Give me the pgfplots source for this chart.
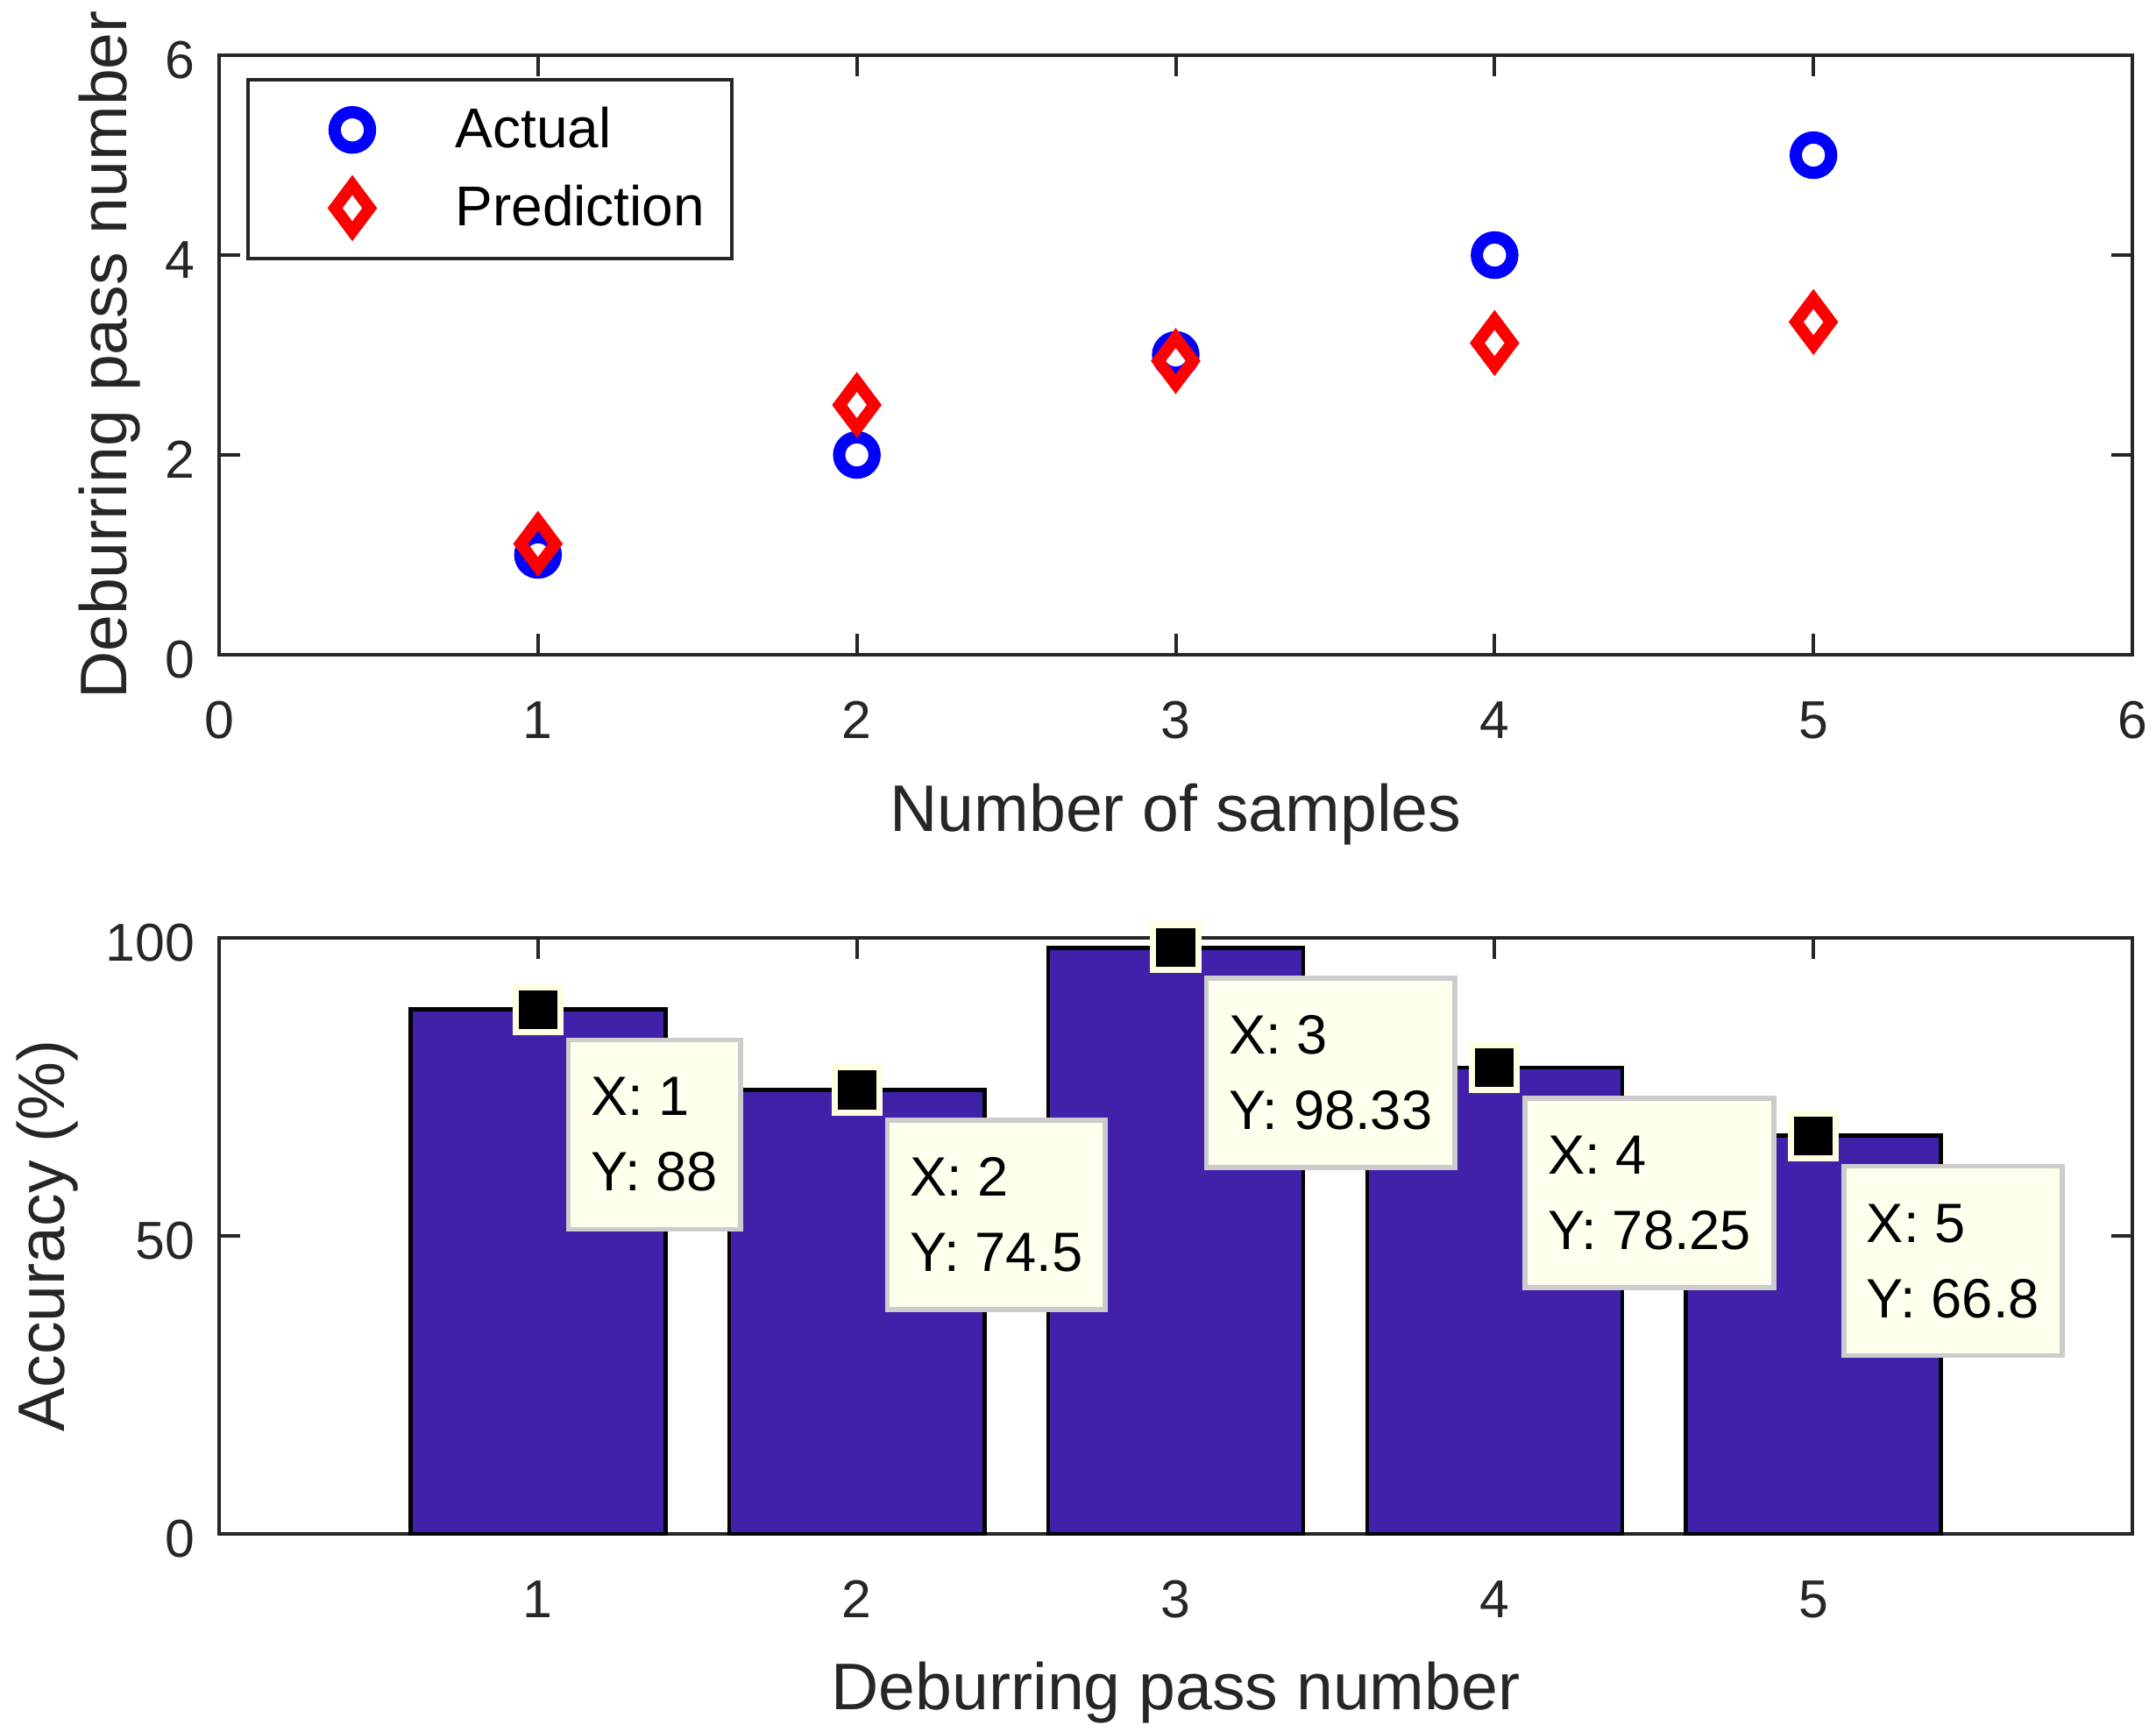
\documentclass[border=0pt]{standalone}
\usepackage{fontspec}
\setmainfont{Liberation Sans}
\usepackage{pgfplots}
\pgfplotsset{compat=1.18}
\definecolor{axgray}{RGB}{38,38,38}
\definecolor{barblue}{RGB}{66,33,170}
\definecolor{tipbg}{RGB}{255,255,238}
\definecolor{tipedge}{RGB}{204,204,204}
\definecolor{tipmark}{RGB}{255,255,225}
\pgfplotsset{
  mystyle/.style={
    scale only axis, width=545.75pt, clip=false,
    axis line style={axgray, line width=1pt},
    tick style={axgray, line width=1pt},
    tick align=inside, major tick length=6pt,
    xticklabel pos=left, yticklabel pos=left,
    xtick pos=both, ytick pos=both,
    /pgf/number format/assume math mode=true,
    ticklabel style={font=\fontsize{15.2}{18}\selectfont, text=axgray},
    xticklabel style={yshift=-9.8pt},
    yticklabel style={xshift=-3.5pt, yshift=-1.3pt},
    label style={font=\fontsize{18.8}{22}\selectfont, text=axgray},
  }
}
\begin{document}
\begin{tikzpicture}
\useasboundingbox (0,0) rectangle (615pt,493.75pt);
\begin{axis}[mystyle,
  at={(62.5pt,307pt)}, anchor=south west, height=171pt,
  xmin=0, xmax=6, ymin=0, ymax=6,
  xtick={0,1,2,3,4,5,6}, ytick={0,2,4,6},
  xlabel={Number of samples},
  ylabel={Deburring pass number},
  xlabel style={at={(axis description cs:0.5,0)}, anchor=center, yshift=-45.5pt},
  ylabel style={at={(axis description cs:-0.0573,0.5)}, anchor=center},
  legend style={at={(axis description cs:0.0142,0.962)}, anchor=north west,
    draw=axgray, line width=1pt, fill=white, inner xsep=7.75pt, inner ysep=7.3pt,
    font=\fontsize{16}{19}\selectfont, text=black, row sep=8.3pt, column sep=7.4pt,
    cells={anchor=west}, nodes={inner sep=0pt}},
  legend image code/.code={\path[draw=none,fill=none] (0pt,-7pt) rectangle (44pt,7pt); \draw[#1] plot coordinates {(22pt,0pt)};},
]
\addplot[only marks, mark=o, color=blue, line width=3.5pt, mark size=5.05pt]
  coordinates {(1,1) (2,2) (3,3) (4,4) (5,5)};
\addlegendentry{Actual}
\addplot[only marks, mark=diamond, color=red, line width=3.4pt, mark size=6.6pt]
  coordinates {(1,1.11) (2,2.5) (3,2.94) (4,3.12) (5,3.33)};
\addlegendentry{Prediction}
\end{axis}

\begin{axis}[mystyle,
  at={(62.5pt,56.25pt)}, anchor=south west, height=170pt,
  xmin=0, xmax=6, ymin=0, ymax=100,
  xtick={1,2,3,4,5}, ytick={0,50,100},
  xlabel={Deburring pass number},
  ylabel={Accuracy (\%)},
  xlabel style={at={(axis description cs:0.5,0)}, anchor=center, yshift=-45.2pt},
  ylabel style={at={(axis description cs:-0.0898,0.5)}, anchor=center},
]
\addplot[ybar, bar width=0.8, fill=barblue, draw=black, line width=1.15pt]
  coordinates {(1,88) (2,74.5) (3,98.33) (4,78.25) (5,66.8)};
\addplot[only marks, mark=square*, mark size=6.4pt,
  mark options={fill=black, draw=tipmark, line width=1.75pt},
  point meta=explicit symbolic, nodes near coords,
  nodes near coords style={anchor=north west, xshift=8pt, yshift=-8pt,
    fill=tipbg, draw=tipedge, line width=1.4pt, align=left,
    font=\fontsize{15.8}{21.5}\selectfont, text=black,
    inner xsep=6.5pt, inner ysep=2pt, minimum height=54pt}]
  coordinates {(1,88) [X: 1\\Y: 88] (2,74.5) [X: 2\\Y: 74.5] (3,98.33) [X: 3\\Y: 98.33]
    (4,78.25) [X: 4\\Y: 78.25] (5,66.8) [X: 5\\Y: 66.8]};
\end{axis}
\end{tikzpicture}
\end{document}
